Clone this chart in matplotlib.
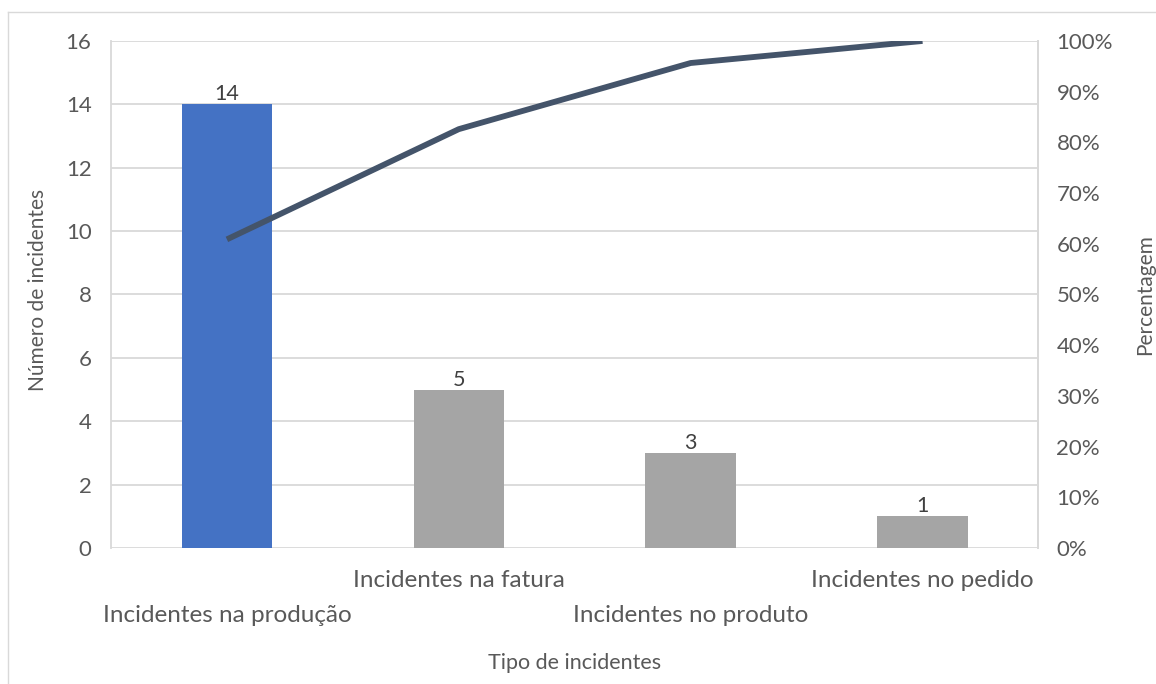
import matplotlib
matplotlib.use("Agg")
import matplotlib.pyplot as plt
from matplotlib.lines import Line2D
from matplotlib.ticker import FuncFormatter

plt.rcParams['font.family'] = ['Lato', 'DejaVu Sans']

categories = ["Incidentes na produção", "Incidentes na fatura",
              "Incidentes no produto", "Incidentes no pedido"]
counts = [14, 5, 3, 1]
bar_colors = ["#4472C4", "#A5A5A5", "#A5A5A5", "#A5A5A5"]
y_ticks = [0, 2, 4, 6, 8, 10, 12, 14, 16]
pct_ticks = [0, 10, 20, 30, 40, 50, 60, 70, 80, 90, 100]

total = sum(counts)
cumulative = []
running = 0
for c in counts:
    running += c
    cumulative.append(running / total * 100)

text_color = "#595959"
grid_color = "#D9D9D9"

fig = plt.figure(figsize=(11.56, 6.84), dpi=100)
ax = fig.add_axes([0.0960, 0.1988, 0.8023, 0.7413])

x = list(range(len(categories)))
ax.bar(x, counts, width=0.39, color=bar_colors, zorder=3)
for xi, v in zip(x, counts):
    ax.text(xi, v, str(v), ha="center", va="bottom", fontsize=15.5,
            color="#404040", zorder=5)

ax.set_xlim(-0.5, len(categories) - 0.5)
ax.set_ylim(0, 16)
ax.set_yticks(y_ticks)
ax.yaxis.grid(True, color=grid_color, linewidth=1.3, zorder=0)
ax.set_axisbelow(True)
ax.tick_params(axis="y", length=0, pad=14, labelsize=16, labelcolor=text_color)
ax.set_xticks([])
for side in ["top", "bottom"]:
    ax.spines[side].set_visible(False)
for side in ["left", "right"]:
    ax.spines[side].set_color(grid_color)
    ax.spines[side].set_linewidth(1.3)

# staggered category labels
label_rows = [-0.134, -0.065, -0.134, -0.065]
for xi, lab, yr in zip(x, categories, label_rows):
    ax.text(xi, yr, lab, transform=ax.get_xaxis_transform(), ha="center",
            va="center", fontsize=17.5, color=text_color)

ax2 = ax.twinx()
ax2.plot(x, cumulative, color="#44546A", linewidth=4.2, zorder=6,
         solid_capstyle="butt")
ax2.set_ylim(0, 100)
ax2.set_yticks(pct_ticks)
ax2.yaxis.set_major_formatter(FuncFormatter(lambda v, p: f"{v:.0f}%"))
ax2.tick_params(axis="y", length=0, pad=13, labelsize=16, labelcolor=text_color)
for side in ["top", "bottom", "left"]:
    ax2.spines[side].set_visible(False)
ax2.spines["right"].set_color(grid_color)
ax2.spines["right"].set_linewidth(1.3)

fig.text(38 / 1156, 1 - 290 / 684, "Número de incidentes", rotation=90,
         ha="center", va="center", fontsize=15, color=text_color)
fig.text(1145 / 1156, 1 - 295 / 684, "Percentagem", rotation=90,
         ha="center", va="center", fontsize=15, color=text_color)
fig.text(575 / 1156, 1 - 663 / 684, "Tipo de incidentes",
         ha="center", va="center", fontsize=15.5, color=text_color)

# chart frame
fig.add_artist(Line2D([8 / 1156, 8 / 1156], [0, 1 - 12 / 684],
                      transform=fig.transFigure, color=grid_color, linewidth=1))
fig.add_artist(Line2D([8 / 1156, 1], [1 - 12 / 684, 1 - 12 / 684],
                      transform=fig.transFigure, color=grid_color, linewidth=1))

fig.savefig("out.png", dpi=100, facecolor="white")
